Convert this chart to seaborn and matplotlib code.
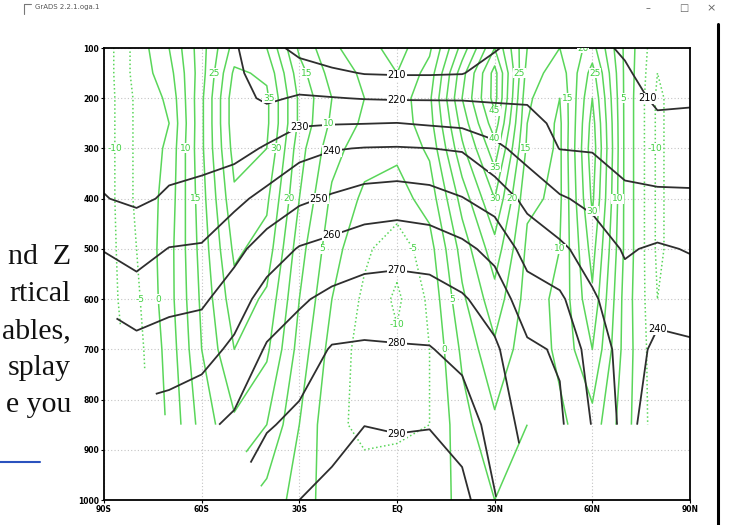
import numpy as np
import matplotlib
matplotlib.use("Agg")
import matplotlib.pyplot as plt
from matplotlib.lines import Line2D
import seaborn as sns

nan = np.nan

# grid: latitude (90S -> 90N) and pressure levels (hPa)
lats = [-90, -80, -70, -60, -50, -40, -30, -20, -10, 0, 10, 20, 30, 40, 50, 60, 70, 80, 90]
levs = [100, 150, 200, 250, 300, 400, 500, 600, 700, 850, 1000]

# temperature (K), one list per level
t100 = [223, 223.5, 223.5, 222, 221, 213.5, 207.3, 204, 201, 201, 201, 202, 209.2, 214, 215, 212, 209, 204, 204.5]
t150 = [224, 224.5, 224.5, 222.5, 222, 215.5, 214.1, 211.7, 209.6, 209.2, 209.2, 209.6, 213.9, 216, 216.5, 214.5, 211, 206.6, 206.8]
t200 = [225, 225.5, 225.5, 223.5, 223, 218.6, 221.0, 220.4, 219.6, 219.2, 219.2, 219.2, 218.8, 219.2, 217.5, 216.5, 213, 208.7, 209.0]
t250 = [226, 226.5, 226.2, 224.5, 224.5, 224.9, 228.9, 229.5, 229.8, 230.2, 229.0, 227.8, 225.3, 222.2, 218.5, 218, 215, 211.4, 211.7]
t300 = [227.5, 227.5, 227.2, 226.0, 226.6, 231.1, 236.8, 239.4, 240.4, 240.7, 240.1, 239.2, 232.4, 226.0, 219.8, 219.3, 217, 214.5, 214.8]
t400 = [230.3, 228.6, 231.0, 233.4, 237.5, 243.0, 248.2, 251.2, 254.0, 255.0, 253.7, 250.4, 246.0, 237.3, 231.0, 227.7, 221.7, 221.7, 221.4]
t500 = [239.5, 236.2, 240.3, 240.9, 247.1, 254.6, 260.7, 263.2, 265.7, 266.7, 265.7, 262.4, 257.1, 246.3, 242.1, 235.2, 229.1, 231.2, 229.4]
t600 = [248, 244.6, 247.5, 248.4, 255.0, 264.2, 268.8, 272.3, 274.3, 274.5, 274.1, 271.1, 265.5, 254.6, 251.7, 241.5, 233.5, 237.8, 235.3]
t700 = [nan, 253.2, 254.5, 256.1, 262.1, 271.0, 274.6, 280.8, 281.3, 280.8, 280.5, 277.1, 271.6, 261.7, 258.9, 245.5, 236.5, 241.5, 241.5]
t850 = [nan, nan, 264.7, 267.8, 271.9, 279.0, 282.5, 286.7, 289.9, 289.2, 289.6, 285.5, 276.1, 266.5, 261.5, 249.5, 237.0, 245, 246]
t1000 = [nan, nan, nan, nan, nan, 288, 290.0, 292.6, 295, 296, 296, 293.5, 280.6, nan, nan, nan, nan, nan, nan]

# zonal wind (m/s), one list per level
u100 = [-13, -3, 5, 18, 32, 30, 14, 6, 2, -2, 4, 22, 40, 20, 15, 22, 4, -9, -6]
u150 = [-13, -3, 3, 18, 36, 34, 17, 8, 4, 0, 7, 28, 47, 18, 12, 27, 4, -10, -6]
u200 = [-13, -4, 1, 19, 38, 36, 19, 10, 5, 2, 9, 30, 47, 16, 10, 30, 4, -11, -6]
u250 = [-13, -4, 0, 19, 38, 36, 19, 9, 4, 2, 8, 27, 43, 15, 9, 32, 4, -11, -6]
u300 = [-13, -4, 1, 19, 37, 35, 17, 7, 2, 1, 6, 24, 38, 14, 9, 33, 4, -11, -6]
u400 = [-13, -4, 2, 18, 34, 31, 15, 4, -1, -2, 2, 17, 30, 11, 9, 31, 4, -11, -6]
u500 = [-13, -5, 3, 17, 31, 28, 12, 2, -4, -8, -2, 12, 23, 9, 10, 27, 4, -11, -6]
u600 = [-13, -6, 3, 16, 28, 24, 10, 0, -6, -11, -4, 9, 18, 8, 11, 24, 3, -10, -6]
u700 = [nan, -7, 2, 15, 25, 21, 8, -2, -7, -9, -5, 6, 14, 7, 11, 20, 3, -9, -6]
u850 = [nan, nan, 1, 12, 19, 15, 5, -4, -6, -6, -5, 3, 9, 5, 9, 13, 2, -8, -6]
u1000 = [nan, nan, nan, nan, nan, 8, 3, -3, -3, -2, -2, 1, 5, nan, nan, nan, nan, nan, nan]

lat_ticks = [-90, -60, -30, 0, 30, 60, 90]
lat_labels = ["90S", "60S", "30S", "EQ", "30N", "60N", "90N"]
lev_ticks = [100, 200, 300, 400, 500, 600, 700, 800, 900, 1000]

doc_lines = ["nd  Z", "rtical", "ables,", "splay", "e you"]

sns.set_theme(style="white")
plt.rcParams["font.family"] = ["DejaVu Sans"]

W, H = 729, 525
fig = plt.figure(figsize=(W / 100, H / 100), dpi=100)
ax = fig.add_axes([104 / W, 25 / H, 586 / W, 452 / H])
ax.set_xlim(-90, 90)
ax.set_ylim(1000, 100)

temp = np.ma.masked_invalid(np.array([t100, t150, t200, t250, t300, t400, t500, t600, t700, t850, t1000]))
wind = np.ma.masked_invalid(np.array([u100, u150, u200, u250, u300, u400, u500, u600, u700, u850, u1000]))

green = "#5ad65a"
ulev = np.arange(-10, 50, 5)
cu = ax.contour(lats, levs, wind, levels=ulev, colors=green, linewidths=1.1,
                linestyles=["dotted" if v < 0 else "solid" for v in ulev])
ulabels = ax.clabel(cu, fmt="%d", fontsize=6.5, colors="#3fcf3f", inline=False)

tlev = np.arange(200, 300, 10)
ct = ax.contour(lats, levs, temp, levels=tlev, colors="#2e2e2e", linewidths=1.3)
tlabels = ax.clabel(ct, fmt="%d", fontsize=7, colors="black", inline=False)

# GrADS-like labels: upright, white box behind, drop crowded green ones
kept = []
for t in list(tlabels) + list(ulabels):
    xy = ax.transData.transform(t.get_position())
    if any(np.hypot(*(xy - k)) < 16 for k in kept):
        t.remove()
        continue
    kept.append(xy)
    t.set_rotation(0)
    t.set_bbox(dict(facecolor="white", edgecolor="none", pad=0.4))
    t.set_zorder(5)

ax.set_xticks(lat_ticks)
ax.set_xticklabels(lat_labels)
ax.set_yticks(lev_ticks)
ax.set_yticklabels([str(v) for v in lev_ticks])
ax.tick_params(labelsize=5.5, length=2, width=0.8, colors="black", pad=1.5,
               left=True, bottom=True)
for lab in ax.get_xticklabels() + ax.get_yticklabels():
    lab.set_fontweight("bold")
ax.grid(True, color="#c4c4c4", linestyle=(0, (1, 2)), linewidth=0.8)
for sp in ax.spines.values():
    sp.set_color("black")
    sp.set_linewidth(1.3)

# window chrome
fig.text(35 / W, 1 - 7 / H, "GrADS 2.2.1.oga.1", fontsize=5, color="#555555", va="center")
fig.add_artist(Line2D([24 / W, 24 / W, 31 / W], [1 - 14 / H, 1 - 4 / H, 1 - 4 / H],
                      color="#777777", lw=0.8))
fig.text(648 / W, 1 - 8 / H, "\u2013", fontsize=7, color="#666666", ha="center", va="center")
fig.text(684 / W, 1 - 8 / H, "\u25a1", fontsize=7, color="#666666", ha="center", va="center")
fig.text(711 / W, 1 - 8 / H, "\u00d7", fontsize=8, color="#666666", ha="center", va="center")
fig.add_artist(Line2D([718 / W, 718 / W], [0, 1 - 24 / H], color="black", lw=2.2))

# document text behind the window
for i, line in enumerate(doc_lines):
    fig.text(71 / W, 1 - (264 + 37 * i) / H, line, ha="right", va="baseline",
             fontsize=21.5, color="#111111", family=["Liberation Serif", "DejaVu Serif"])
fig.add_artist(Line2D([0, 40 / W], [1 - 462 / H, 1 - 462 / H], color="#2a52be", lw=1.5))

fig.savefig("out.png", dpi=100)
